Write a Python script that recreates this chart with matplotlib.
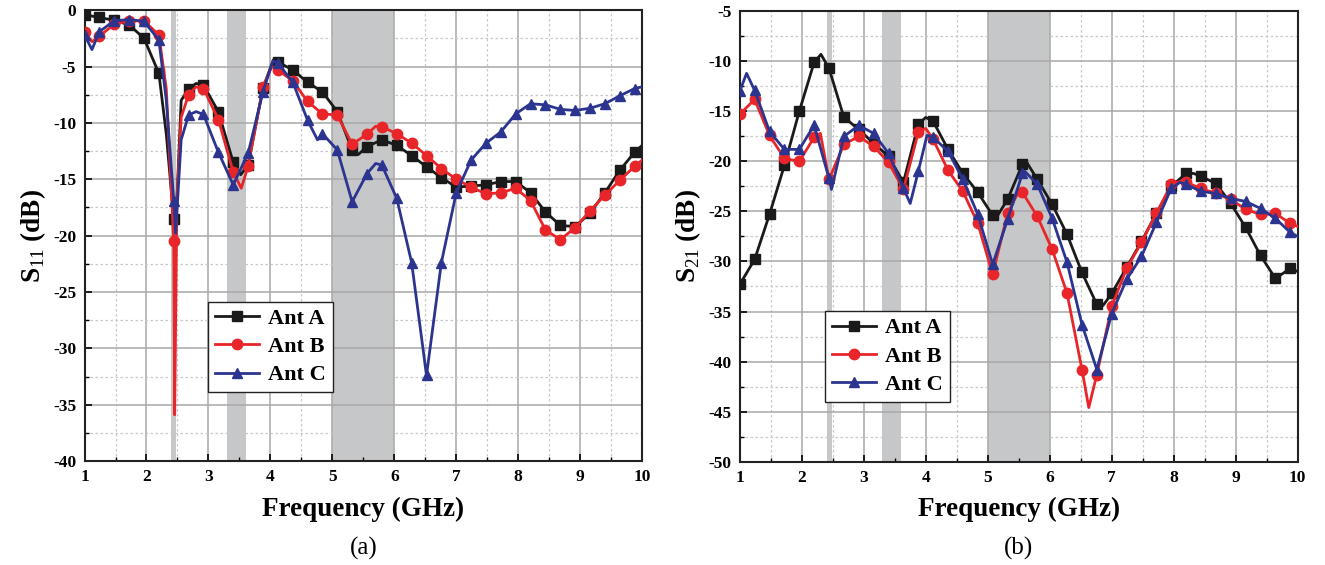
import numpy as np
import matplotlib.pyplot as plt
from matplotlib.ticker import MultipleLocator

plt.rcParams['font.family'] = ['Liberation Serif', 'DejaVu Serif']
plt.rcParams['axes.unicode_minus'] = False
plt.rcParams['mathtext.fontset'] = 'custom'
plt.rcParams['mathtext.rm'] = 'Liberation Serif'
plt.rcParams['mathtext.bf'] = 'Liberation Serif:bold'

# marker frequencies (GHz)
freq = [1.00, 1.24, 1.48, 1.72, 1.96, 2.20, 2.44, 2.68, 2.92, 3.16,
        3.40, 3.64, 3.88, 4.12, 4.36, 4.60, 4.84, 5.08, 5.32, 5.56,
        5.80, 6.04, 6.28, 6.52, 6.76, 7.00, 7.24, 7.48, 7.72, 7.96,
        8.20, 8.44, 8.68, 8.92, 9.16, 9.40, 9.64, 9.88]

# (a) S11, dB
s11_a = [-0.4, -0.65, -0.9, -1.3, -2.5, -5.6, -18.5, -7.0, -6.65, -9.0,
         -13.5, -13.75, -6.9, -4.6, -5.3, -6.4, -7.25, -9.0, -12.4, -12.1,
         -11.5, -12.0, -12.9, -13.9, -14.85, -15.7, -15.6, -15.5, -15.2, -15.2,
         -16.2, -17.9, -19.1, -19.2, -18.0, -16.2, -14.2, -12.6]
s11_b = [-1.9, -2.3, -1.25, -0.95, -0.95, -2.2, -20.5, -7.5, -6.95, -9.7,
         -14.35, -13.85, -6.86, -5.3, -6.27, -8.1, -9.2, -9.3, -11.9, -11.0,
         -10.35, -10.95, -11.8, -12.9, -14.05, -15.0, -15.7, -16.3, -16.2, -15.8,
         -16.9, -19.5, -20.35, -19.3, -17.8, -16.4, -15.1, -13.85]
s11_c = [-2.2, -1.9, -0.95, -0.83, -1.0, -2.65, -16.9, -9.3, -9.25, -12.6,
         -15.5, -12.7, -7.25, -4.7, -6.36, -9.76, -10.95, -12.4, -17.0, -14.5,
         -13.75, -16.7, -22.4, -32.4, -22.4, -16.2, -13.3, -11.8, -10.8, -9.2,
         -8.3, -8.4, -8.8, -8.9, -8.7, -8.3, -7.6, -6.95]

# points on the traces between markers (notches, peaks, sweep end)
s11_a_fx = [2.32, 2.47, 2.56, 2.80, 3.52, 4.05, 5.42, 10.0]
s11_a_ex = [-11.0, -19.5, -8.0, -6.5, -14.6, -4.4, -12.8, -12.0]
s11_b_fx = [1.12, 2.32, 2.455, 2.49, 2.56, 2.80, 3.53, 4.02, 5.70, 10.0]
s11_b_ex = [-2.8, -7.0, -35.9, -17.0, -9.5, -6.8, -15.8, -5.0, -10.3, -13.3]
s11_c_fx = [1.12, 2.32, 2.47, 2.56, 2.80, 4.04, 4.76, 5.70, 10.0]
s11_c_ex = [-3.5, -8.0, -19.8, -11.5, -9.0, -4.5, -11.5, -13.6, -6.8]

# (b) S21, dB
s21_a = [-32.3, -29.8, -25.3, -20.4, -15.0, -10.1, -10.7, -15.6, -16.8, -18.2,
         -19.5, -22.1, -16.3, -16.0, -18.8, -21.2, -23.1, -25.4, -23.8, -20.3,
         -21.8, -24.3, -27.3, -31.1, -34.3, -33.2, -30.6, -28.0, -25.2, -22.5,
         -21.2, -21.5, -22.2, -24.2, -26.6, -29.4, -31.7, -30.7]
s21_b = [-15.3, -13.8, -17.4, -19.7, -20.0, -17.6, -21.8, -18.3, -17.5, -18.5,
         -20.1, -22.8, -17.1, -17.8, -20.9, -23.0, -26.2, -31.3, -25.2, -23.1,
         -25.5, -28.8, -33.2, -40.8, -41.3, -34.5, -30.7, -28.1, -25.2, -22.3,
         -22.1, -22.7, -23.2, -23.8, -24.8, -25.3, -25.2, -26.2]
s21_c = [-13.0, -12.9, -17.0, -18.8, -18.8, -16.4, -21.7, -17.5, -16.4, -17.2,
         -19.2, -22.7, -21.0, -17.6, -19.0, -21.8, -25.3, -30.3, -25.8, -21.2,
         -22.3, -25.7, -30.1, -36.3, -40.8, -35.2, -31.8, -29.5, -26.1, -22.7,
         -22.3, -23.0, -23.2, -23.7, -24.0, -24.7, -25.7, -27.1]

s21_a_fx = [2.31, 4.00, 5.14, 5.62, 6.86, 8.32, 10.0]
s21_a_ex = [-9.3, -15.6, -25.6, -20.0, -34.4, -21.2, -31.0]
s21_b_fx = [2.30, 4.00, 5.50, 6.63, 8.10, 10.0]
s21_b_ex = [-17.2, -16.7, -23.0, -44.6, -22.0, -26.5]
s21_c_fx = [1.11, 2.48, 3.75, 4.02, 5.60, 8.10, 10.0]
s21_c_ex = [-11.2, -22.8, -24.2, -17.4, -21.0, -22.1, -27.5]

bands = [(2.40, 2.48), (3.30, 3.60), (5.00, 6.00)]
names = ['Ant A', 'Ant B', 'Ant C']
colors = ['#1a1a1a', '#e8262a', '#2b3590']
markers = ['s', 'o', '^']


def draw_trace(ax, f_ex, y_ex, y_mk, color, marker, label):
    f = np.concatenate([freq, f_ex])
    y = np.concatenate([y_mk, y_ex])
    order = np.argsort(f, kind='stable')
    mk = [i for i, j in enumerate(order) if j < len(freq)]
    ax.plot(f[order], y[order], color=color, lw=2.0, marker=marker, ms=7.5,
            markevery=mk, label=label, zorder=3)


def setup(ax, ylim, ylabel, tag):
    for lo, hi in bands:
        ax.axvspan(lo, hi, color='#c6c7c9', lw=0, zorder=0)
    ax.set_xlim(1, 10)
    ax.set_ylim(*ylim)
    ax.xaxis.set_major_locator(MultipleLocator(1))
    ax.xaxis.set_minor_locator(MultipleLocator(0.5))
    ax.yaxis.set_major_locator(MultipleLocator(5))
    ax.yaxis.set_minor_locator(MultipleLocator(2.5))
    ax.grid(which='major', color='#a8a8a8', lw=1.1, zorder=1)
    ax.grid(which='minor', color='#c8c8c8', lw=0.9, ls=(0, (2, 2)), zorder=1)
    ax.set_axisbelow(True)
    ax.tick_params(which='both', direction='in', top=False, right=False,
                   labelsize=12.5, pad=6)
    ax.tick_params(which='major', length=5, width=1.2)
    ax.tick_params(which='minor', length=3, width=1.0)
    for lab in ax.get_xticklabels() + ax.get_yticklabels():
        lab.set_fontweight('bold')
    for sp in ax.spines.values():
        sp.set_linewidth(1.5)
        sp.set_color('#222222')
    ax.set_xlabel('Frequency (GHz)', fontsize=19.5, fontweight='bold', labelpad=8)
    ax.set_ylabel(ylabel, fontsize=19.5, fontweight='bold', labelpad=4)
    ax.text(0.5, -0.193, tag, transform=ax.transAxes, ha='center', va='center',
            fontsize=18)


fig = plt.figure(figsize=(13.25, 5.65), dpi=100)
ax1 = fig.add_axes([0.0638, 0.184, 0.4208, 0.798])
ax2 = fig.add_axes([0.5583, 0.183, 0.4211, 0.797])

s11 = [(s11_a_fx, s11_a_ex, s11_a), (s11_b_fx, s11_b_ex, s11_b), (s11_c_fx, s11_c_ex, s11_c)]
s21 = [(s21_a_fx, s21_a_ex, s21_a), (s21_b_fx, s21_b_ex, s21_b), (s21_c_fx, s21_c_ex, s21_c)]
for (fx, ex, ys), c, m, n in zip(s11, colors, markers, names):
    draw_trace(ax1, fx, ex, ys, c, m, n)
for (fx, ex, ys), c, m, n in zip(s21, colors, markers, names):
    draw_trace(ax2, fx, ex, ys, c, m, n)

setup(ax1, (-40, 0), r'$\mathbf{S}_{11}$ (dB)', '(a)')
setup(ax2, (-50, -5), r'$\mathbf{S}_{21}$ (dB)', '(b)')

leg_kw = dict(frameon=True, fancybox=False, edgecolor='#222222', framealpha=1,
              prop={'weight': 'bold', 'size': 16}, handlelength=2.0,
              borderpad=0.3, labelspacing=0.35, handletextpad=0.4,
              borderaxespad=0)
l1 = ax1.legend(loc='lower left', bbox_to_anchor=(0.222, 0.153), **leg_kw)
l2 = ax2.legend(loc='lower left', bbox_to_anchor=(0.153, 0.133), **leg_kw)
for lg in (l1, l2):
    lg.get_frame().set_linewidth(1.0)
    lg.set_zorder(5)

fig.savefig('out.png', dpi=100)
